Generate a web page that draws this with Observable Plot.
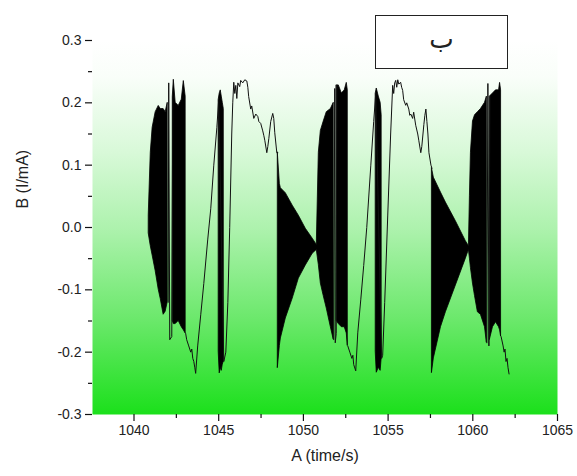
<!DOCTYPE html>
<html>
<head>
<meta charset="utf-8">
<script src="https://cdn.jsdelivr.net/npm/d3@7"></script>
<script src="https://cdn.jsdelivr.net/npm/@observablehq/plot@0.6"></script>
<style>
  html, body { margin: 0; padding: 0; background: #fff; }
  #wrap { position: relative; width: 577px; height: 476px; }
  #tag { position: absolute; left: 375px; top: 15px; width: 133px; height: 54px;
         border: 1px solid #222; background: #fff; display: flex; align-items: center;
         justify-content: center; font-family: "Noto Sans", "DejaVu Sans", sans-serif;
         font-size: 26px; line-height: 1; color: #222; box-sizing: border-box; padding-bottom: 8px; }
</style>
</head>
<body>
<div id="wrap"><div id="tag"></div></div>
<script>
// ---- axis ticks and texts ----
const xTicks = [1040, 1045, 1050, 1055, 1060, 1065];
const xMinor = [1042.5, 1047.5, 1052.5, 1057.5, 1062.5];
const yTicks = [-0.3, -0.2, -0.1, 0.0, 0.1, 0.2, 0.3];
const yMinor = [-0.25, -0.15, -0.05, 0.05, 0.15, 0.25];
const xLabel = "A (time/s)";
const yLabel = "B (I/mA)";
const tagText = "ب";

// ---- dense oscillation bursts: envelope (upper / lower); null = break ----
const burstT = [
  1040.87, 1040.99, 1041.10, 1041.28, 1041.46, 1041.58, 1041.75, 1041.87, 1041.99, 1042.0,
  1042.29, 1042.35, 1042.46, 1042.64, 1042.82, 1042.94, 1043.05, 1043.06,
  1045.00, 1045.06, 1045.12, 1045.18, 1045.24, 1045.30, 1045.31,
  1048.49, 1048.61, 1048.67, 1048.96, 1049.37, 1049.73, 1050.14, 1050.55, 1050.79,
  1050.91, 1051.03, 1051.20, 1051.38, 1051.62, 1051.79, 1051.80,
  1051.97, 1052.09, 1052.27, 1052.44, 1052.56, 1052.62, 1052.63,
  1054.27, 1054.33, 1054.45, 1054.56, 1054.62, 1054.63,
  1057.59, 1057.70, 1058.12, 1058.41, 1059.00, 1059.59, 1059.77,
  1059.83, 1059.89, 1060.01, 1060.13, 1060.30, 1060.48, 1060.72, 1060.83, 1060.84,
  1061.01, 1061.19, 1061.37, 1061.55, 1061.61, 1061.67
];
const burstHi = [
  0.02, 0.12, 0.16, 0.185, 0.195, 0.19, 0.19, 0.185, 0.20, null,
  0.21, 0.237, 0.20, 0.195, 0.205, 0.235, 0.21, null,
  0.205, 0.215, 0.22, 0.21, 0.20, 0.19, null,
  0.12, 0.07, 0.063, 0.055, 0.035, 0.019, -0.002, -0.018, -0.028,
  0.12, 0.155, 0.17, 0.185, 0.19, 0.20, null,
  0.228, 0.228, 0.215, 0.22, 0.232, 0.22, null,
  0.215, 0.223, 0.21, 0.20, 0.18, null,
  0.095, 0.08, 0.056, 0.04, 0.01, -0.022, -0.03,
  0.05, 0.12, 0.17, 0.18, 0.185, 0.19, 0.20, 0.21, null,
  0.21, 0.215, 0.22, 0.22, 0.232, 0.22
];
const burstLo = [
  -0.01, -0.03, -0.045, -0.07, -0.10, -0.115, -0.14, -0.135, -0.12, null,
  -0.15, -0.155, -0.155, -0.15, -0.16, -0.165, -0.17, null,
  -0.20, -0.234, -0.225, -0.23, -0.22, -0.215, null,
  -0.225, -0.19, -0.178, -0.146, -0.114, -0.082, -0.061, -0.042, -0.036,
  -0.06, -0.09, -0.11, -0.13, -0.16, -0.18, null,
  -0.15, -0.155, -0.16, -0.16, -0.17, -0.19, null,
  -0.20, -0.233, -0.225, -0.23, -0.21, null,
  -0.233, -0.21, -0.16, -0.136, -0.093, -0.05, -0.036,
  -0.05, -0.065, -0.09, -0.11, -0.136, -0.14, -0.16, -0.185, null,
  -0.18, -0.16, -0.152, -0.16, -0.165, -0.175
];

// ---- slow thin trace; null = break ----
const traceT = [
  1042.02, 1042.05, 1042.11, 1042.23, 1042.29, 1042.30,
  1043.05, 1043.11, 1043.23, 1043.35, 1043.41, 1043.47, 1043.53, 1043.59, 1043.64, 1043.76,
  1043.94, 1044.12, 1044.35, 1044.53, 1044.71, 1044.89, 1045.00,
  1045.30, 1045.42, 1045.54, 1045.65, 1045.77, 1045.83, 1045.89, 1045.95, 1046.01, 1046.07,
  1046.13, 1046.24, 1046.30, 1046.42, 1046.54, 1046.66, 1046.72, 1046.77, 1046.89, 1046.95,
  1047.07, 1047.19, 1047.31, 1047.37, 1047.48, 1047.60, 1047.66, 1047.72, 1047.84, 1047.90,
  1047.96, 1048.07, 1048.19, 1048.25, 1048.31, 1048.43, 1048.49, 1048.50,
  1051.79, 1051.85, 1051.88, 1051.94, 1051.97, 1051.98,
  1052.62, 1052.74, 1052.86, 1052.92, 1052.97, 1053.09, 1053.21, 1053.39, 1053.56, 1053.74,
  1053.98, 1054.15, 1054.27,
  1054.62, 1054.68, 1054.80, 1054.98, 1055.15, 1055.27, 1055.33, 1055.39, 1055.45, 1055.51,
  1055.57, 1055.63, 1055.74, 1055.80, 1055.86, 1055.92, 1056.04, 1056.10, 1056.22, 1056.28,
  1056.34, 1056.45, 1056.51, 1056.63, 1056.75, 1056.81, 1056.93, 1056.99, 1057.11, 1057.17,
  1057.23, 1057.29, 1057.35, 1057.41, 1057.53, 1057.59, 1057.60,
  1060.83, 1060.89, 1060.95, 1061.01, 1061.02,
  1061.67, 1061.79, 1061.85, 1061.90, 1061.96, 1062.02, 1062.08, 1062.14
];
const traceV = [
  -0.12, 0.232, -0.18, -0.175, 0.21, null,
  -0.17, -0.18, -0.19, -0.20, -0.195, -0.21, -0.215, -0.225, -0.234, -0.19,
  -0.14, -0.09, -0.02, 0.03, 0.10, 0.16, 0.205,
  -0.215, -0.20, -0.12, 0.0, 0.15, 0.20, 0.233, 0.215, 0.228, 0.207,
  0.232, 0.226, 0.236, 0.232, 0.237, 0.235, 0.225, 0.21, 0.19, 0.195,
  0.175, 0.182, 0.178, 0.17, 0.167, 0.155, 0.148, 0.14, 0.12, 0.13,
  0.143, 0.17, 0.183, 0.175, 0.152, 0.12, 0.12, null,
  -0.18, 0.223, -0.185, -0.17, 0.228, null,
  -0.19, -0.20, -0.21, -0.205, -0.22, -0.23, -0.169, -0.115, -0.061, 0.0,
  0.10, 0.17, 0.215,
  -0.21, -0.205, -0.12, 0.02, 0.15, 0.228, 0.215, 0.232, 0.236, 0.225,
  0.237, 0.23, 0.233, 0.225, 0.22, 0.205, 0.196, 0.20, 0.19, 0.18,
  0.182, 0.175, 0.185, 0.164, 0.15, 0.14, 0.12, 0.13, 0.165, 0.18,
  0.19, 0.17, 0.15, 0.12, 0.10, 0.095, null,
  -0.185, 0.231, -0.19, 0.21, null,
  -0.175, -0.19, -0.20, -0.195, -0.215, -0.21, -0.225, -0.235
];

const bursts = burstT.map((t, i) => ({t, hi: burstHi[i], lo: burstLo[i]}));
const trace = traceT.map((t, i) => ({t, v: traceV[i]}));

const chart = Plot.plot({
  width: 577,
  height: 476,
  marginLeft: 92,
  marginRight: 20,
  marginTop: 40,
  marginBottom: 62,
  style: {fontFamily: "'Liberation Sans', Arial, sans-serif", fontSize: "14px", color: "#222", background: "transparent", overflow: "visible"},
  x: {domain: [1037.55, 1065]},
  y: {domain: [-0.3, 0.3]},
  marks: [
    Plot.frame({fill: "url(#greenGrad)", stroke: null}),
    Plot.areaY(bursts, {x: "t", y1: "lo", y2: "hi", fill: "#000", stroke: "#000", strokeWidth: 0.8}),
    Plot.line(trace, {x: "t", y: "v", stroke: "#111", strokeWidth: 1}),
    Plot.axisX({ticks: xTicks, tickSize: 7, tickPadding: 4, tickFormat: d => String(d), line: true, label: null, stroke: "#111", strokeWidth: 1.2}),
    Plot.axisX({ticks: xMinor, tickSize: 4, tickFormat: () => "", label: null, stroke: "#111", strokeWidth: 1.2}),
    Plot.axisY({ticks: yTicks, tickSize: 7, tickPadding: 4, tickFormat: d => d.toFixed(1), line: true, label: null, stroke: "#111", strokeWidth: 1.2}),
    Plot.axisY({ticks: yMinor, tickSize: 4, tickFormat: () => "", label: null, stroke: "#111", strokeWidth: 1.2}),
    Plot.text([xLabel], {frameAnchor: "bottom", dy: 46, fontSize: 16, fill: "#222"}),
    Plot.text([yLabel], {frameAnchor: "left", dx: -70, dy: -19, rotate: -90, fontSize: 16, fill: "#222"})
  ]
});

// gradient definition for the plot background
const ns = "http://www.w3.org/2000/svg";
const defs = document.createElementNS(ns, "defs");
const grad = document.createElementNS(ns, "linearGradient");
grad.setAttribute("id", "greenGrad");
grad.setAttribute("x1", "0"); grad.setAttribute("y1", "0");
grad.setAttribute("x2", "0"); grad.setAttribute("y2", "1");
[["0", "#ffffff"], ["0.1", "#f9fef9"], ["0.3", "#d8f9d8"], ["0.5", "#aef2ae"], ["0.75", "#6ae86a"], ["1", "#1be01b"]]
  .forEach(([o, c]) => {
    const s = document.createElementNS(ns, "stop");
    s.setAttribute("offset", o);
    s.setAttribute("stop-color", c);
    grad.appendChild(s);
  });
defs.appendChild(grad);
chart.insertBefore(defs, chart.firstChild);

const wrap = document.getElementById("wrap");
wrap.insertBefore(chart, wrap.firstChild);
document.getElementById("tag").textContent = tagText;
</script>
</body>
</html>
